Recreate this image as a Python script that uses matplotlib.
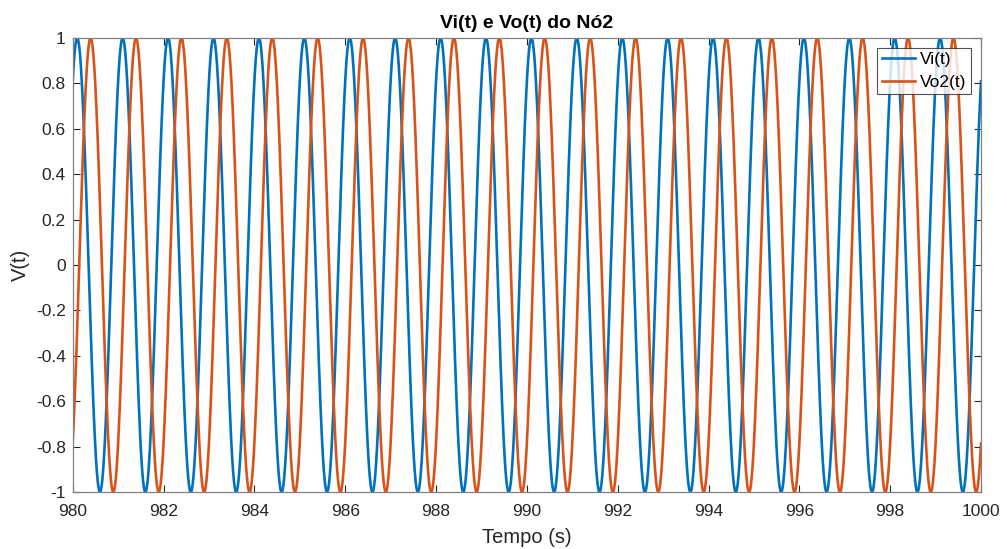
import numpy as np
import matplotlib
matplotlib.use("Agg")
import matplotlib.pyplot as plt

# signal parameters
t_start = 980.0
t_end = 1000.0
freq_hz = 1.0            # one full cycle per second
amplitude = 1.0
vi_peak_at = 980.10      # first maximum of Vi(t)
vo2_peak_at = 980.394    # first maximum of Vo2(t)

y_ticks = [-1, -0.8, -0.6, -0.4, -0.2, 0, 0.2, 0.4, 0.6, 0.8, 1]
y_labels = ["-1", "-0.8", "-0.6", "-0.4", "-0.2", "0", "0.2", "0.4", "0.6", "0.8", "1"]
x_ticks = [980, 982, 984, 986, 988, 990, 992, 994, 996, 998, 1000]

t = np.linspace(t_start, t_end, 4001)
vi = amplitude * np.cos(2 * np.pi * freq_hz * (t - vi_peak_at))
vo2 = amplitude * np.cos(2 * np.pi * freq_hz * (t - vo2_peak_at))

plt.rcParams["font.family"] = ["Liberation Sans", "DejaVu Sans"]
axis_gray = "#262626"

fig = plt.figure(figsize=(10.07, 5.49), dpi=100)
ax = fig.add_axes([72.7 / 1007, 1 - 492 / 549, 908.3 / 1007, 454 / 549])

ax.plot(t, vi, color="#0072BD", linewidth=1.9, label="Vi(t)")
ax.plot(t, vo2, color="#D95319", linewidth=1.9, label="Vo2(t)")

ax.set_xlim(t_start, t_end)
ax.set_ylim(-1, 1)
ax.set_xticks(x_ticks)
ax.set_yticks(y_ticks)
ax.set_yticklabels(y_labels)
ax.tick_params(direction="in", top=True, right=True, length=5, width=0.8,
               colors=axis_gray, labelsize=12.5)
ax.tick_params(axis="x", pad=9)
ax.tick_params(axis="y", pad=5)
for s in ax.spines.values():
    s.set_color("#808080")
    s.set_linewidth(0.9)

ax.set_xlabel("Tempo (s)", fontsize=14.5, color=axis_gray, labelpad=6)
ax.set_ylabel("V(t)", fontsize=14.5, color=axis_gray, labelpad=4)
ax.set_title("Vi(t) e Vo(t) do Nó2", fontsize=14, fontweight="bold", color="black", pad=7)

leg = ax.legend(loc="upper right", bbox_to_anchor=(0.9885, 0.979), fontsize=12.5,
                frameon=True, fancybox=False, handlelength=1.9, borderpad=0.25,
                labelspacing=0.45, handletextpad=0.3, borderaxespad=0)
leg.get_frame().set_edgecolor(axis_gray)
leg.get_frame().set_linewidth(0.8)

fig.savefig("out.png", dpi=100)
